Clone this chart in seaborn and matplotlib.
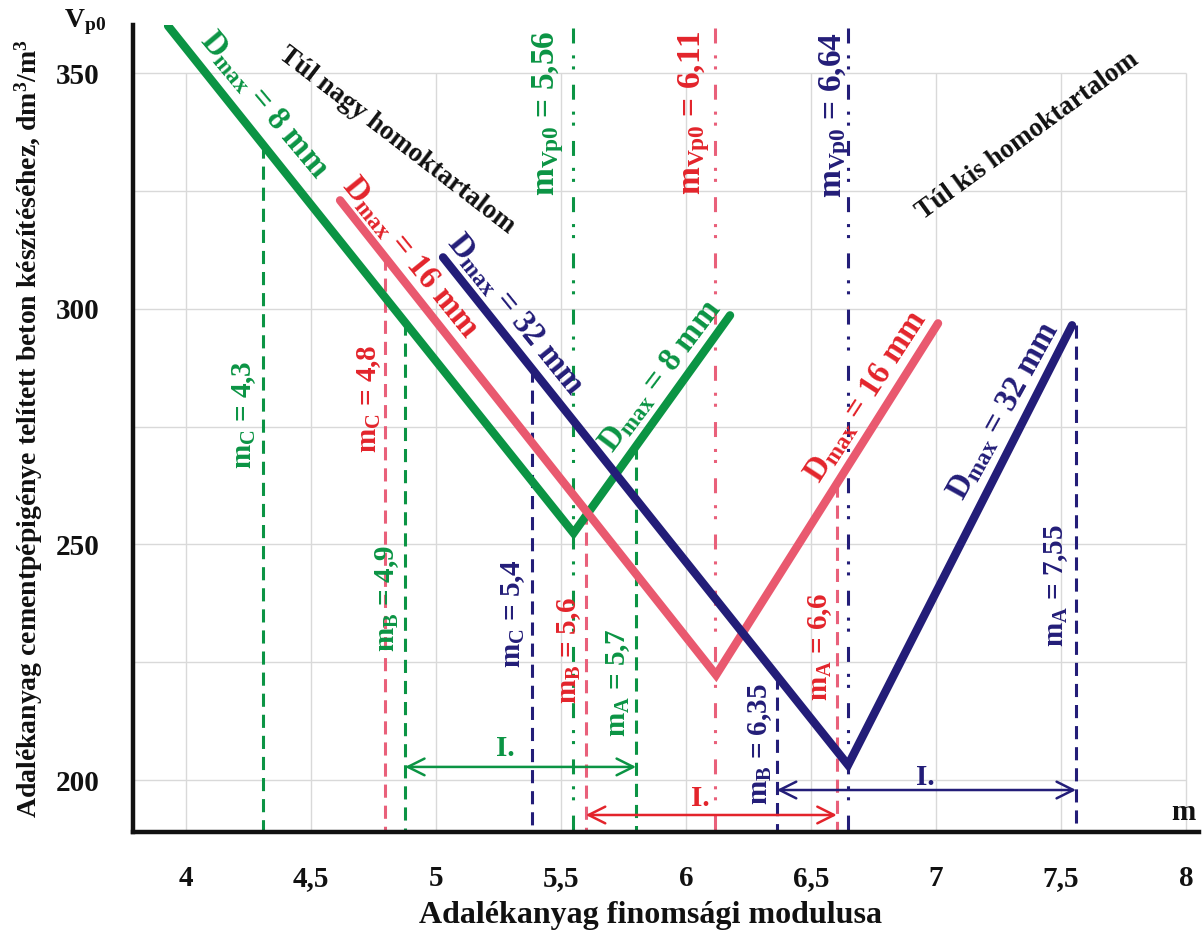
import numpy as np
import pandas as pd
import matplotlib
matplotlib.use("Agg")
import matplotlib.pyplot as plt
import seaborn as sns

# ---------------- data ----------------
series_names = ["8 mm", "16 mm", "32 mm"]
x_8mm = [3.928, 5.55, 6.176]
y_8mm = [360.0, 252.4, 298.6]
x_16mm = [4.616, 6.12, 7.008]
y_16mm = [323.0, 222.3, 296.9]
x_32mm = [5.028, 6.648, 7.544]
y_32mm = [310.9, 203.2, 296.5]

# characteristic fineness moduli: drawn position and printed value (per series 8/16/32 mm)
mC_pos = [4.308, 4.796, 5.384]
mC_text = ["4,3", "4,8", "5,4"]
mB_pos = [4.876, 5.599, 6.363]
mB_text = ["4,9", "5,6", "6,35"]
mA_pos = [5.80, 6.603, 7.56]
mA_text = ["5,7", "6,6", "7,55"]
mVp0_pos = [5.548, 6.116, 6.648]
mVp0_text = ["5,56", "6,11", "6,64"]

x_ticks = [4, 4.5, 5, 5.5, 6, 6.5, 7, 7.5, 8]
x_tick_labels = ["4", "4,5", "5", "5,5", "6", "6,5", "7", "7,5", "8"]
y_ticks = [200, 250, 300, 350]
y_grid = [200, 225, 250, 275, 300, 325, 350]

# ---------------- style ----------------
sns.set_theme(style="white")
plt.rcParams["font.family"] = ["Liberation Serif", "DejaVu Serif"]
plt.rcParams["font.weight"] = "bold"
plt.rcParams["mathtext.fontset"] = "custom"
plt.rcParams["mathtext.rm"] = "Liberation Serif:bold"
plt.rcParams["mathtext.it"] = "Liberation Serif:bold"
plt.rcParams["mathtext.bf"] = "Liberation Serif:bold"
plt.rcParams["mathtext.default"] = "rm"

GREEN = "#0b9444"
RED_LINE = "#e9596f"
RED_DASH = "#e9607a"
RED_TXT = "#e3242b"
BLUE = "#231d78"
line_colors = [GREEN, RED_LINE, BLUE]
dash_colors = [GREEN, RED_DASH, BLUE]
text_colors = [GREEN, RED_TXT, BLUE]

fig = plt.figure(figsize=(12.03, 9.35), dpi=100)
ax = fig.add_axes([0.1106, 0.1102, 0.8857, 0.8631])
XMIN, XMAX = 3.788, 8.05
YMIN, YMAX = 189.0, 360.2
ax.set_xlim(XMIN, XMAX)
ax.set_ylim(YMIN, YMAX)

# grid (only up to 350 / 8 as in the original)
ax.vlines(x_ticks, YMIN, 350, colors="#d9d9d9", lw=1, zorder=0)
ax.hlines(y_grid, XMIN, 8, colors="#d9d9d9", lw=1, zorder=0)

# ---------------- V-curves via seaborn ----------------
xs_all = [x_8mm, x_16mm, x_32mm]
ys_all = [y_8mm, y_16mm, y_32mm]
df = pd.DataFrame({
    "m": np.concatenate(xs_all),
    "V": np.concatenate(ys_all),
    "Dmax": np.repeat(series_names, [len(v) for v in xs_all]),
})
sns.lineplot(data=df, x="m", y="V", hue="Dmax", palette=dict(zip(series_names, line_colors)),
             estimator=None, sort=False, lw=6, legend=False, ax=ax, zorder=5,
             solid_joinstyle="miter")

# ---------------- vertical characteristic lines ----------------
dash_ls = (0, (4.3, 2.6))
dashdot_ls = (0, (4.9, 3.9, 1.0, 2.6, 1.0, 5.0))
for i in range(3):
    xs, ys = xs_all[i], ys_all[i]
    for pos in (mC_pos[i], mB_pos[i], mA_pos[i]):
        top = np.interp(pos, xs, ys)
        ax.plot([pos, pos], [top, YMIN], color=dash_colors[i], lw=2.2, ls=dash_ls, zorder=4)
    ax.plot([mVp0_pos[i]] * 2, [359.5, YMIN], color=dash_colors[i], lw=2.2, ls=dashdot_ls, zorder=4)

# ---------------- range arrows "I." ----------------
arrow_y = [202.8, 192.6, 197.9]
arrow_lbl = [(5.276, 206.8), (6.056, 196.2), (6.956, 200.6)]
arrow_cols = [GREEN, RED_TXT, BLUE]
for i in range(3):
    ax.annotate("", xy=(mA_pos[i], arrow_y[i]), xytext=(mB_pos[i], arrow_y[i]),
                arrowprops=dict(arrowstyle="<->,head_length=0.6,head_width=0.3",
                                color=arrow_cols[i], lw=1.8, shrinkA=0, shrinkB=0,
                                mutation_scale=20), zorder=6)
    ax.text(*arrow_lbl[i], "I.", color=arrow_cols[i], fontsize=21, fontweight="bold",
            ha="center", va="center", zorder=7)


def label(x, y, s, color, rot, size):
    ax.text(x, y, s, color=color, rotation=rot, rotation_mode="anchor", ha="center",
            va="center", fontsize=size, fontweight="bold", zorder=8)


# D_max labels along the curves
dmax_desc = [(4.312, 343.3, -50), (4.896, 310.9, -51), (5.316, 298.8, -51)]
dmax_asc = [(5.896, 285.6, 53), (6.72, 281.4, 57), (7.272, 278.4, 61)]
for i in range(3):
    s = "D$_{max}$ = " + series_names[i]
    label(*dmax_desc[i][:2], s, text_colors[i], dmax_desc[i][2], 23.5)
    label(*dmax_asc[i][:2], s, text_colors[i], dmax_asc[i][2], 23.5)

label(4.844, 335.7, "Túl nagy homoktartalom", "#111111", -37.5, 19.5)
label(7.368, 336.7, "Túl kis homoktartalom", "#111111", 36, 19.5)

# m labels
mVp0_lbl = [(5.448, 341.4), (6.032, 341.6), (6.596, 341.2)]
mC_lbl = [(4.232, 277.6), (4.732, 281.0), (5.308, 235.4)]
mB_lbl = [(4.804, 238.6), (5.532, 227.6), (6.296, 207.6)]
mA_lbl = [(5.728, 220.6), (6.536, 228.2), (7.48, 241.3)]
for i in range(3):
    label(*mVp0_lbl[i], "m$_{Vp0}$ = " + mVp0_text[i], text_colors[i], 90, 24)
    label(*mC_lbl[i], "m$_C$ = " + mC_text[i], text_colors[i], 90, 21)
    label(*mB_lbl[i], "m$_B$ = " + mB_text[i], text_colors[i], 90, 21)
    label(*mA_lbl[i], "m$_A$ = " + mA_text[i], text_colors[i], 90, 21)

# ---------------- axes cosmetics ----------------
for sp in ("top", "right"):
    ax.spines[sp].set_visible(False)
for sp in ("left", "bottom"):
    ax.spines[sp].set_color("#111111")
    ax.spines[sp].set_linewidth(3.2)
    ax.spines[sp].set_zorder(9)

ax.set_xticks(x_ticks)
ax.set_xticklabels(x_tick_labels)
ax.set_yticks(y_ticks)
ax.set_yticklabels([str(v) for v in y_ticks])
ax.tick_params(axis="both", direction="out", length=15, width=1, color="#a0a0a0",
               labelsize=21, pad=9, labelcolor="#111111")
for t in ax.get_xticklabels() + ax.get_yticklabels():
    t.set_fontweight("bold")

ax.set_xlabel("Adalékanyag finomsági modulusa", fontsize=23, fontweight="bold",
              color="#111111")
ax.xaxis.set_label_coords(0.486, -0.086)
ax.set_ylabel("Adalékanyag cementpépigénye telített beton készítéséhez, dm$^3$/m$^3$",
              fontsize=20, fontweight="bold", color="#111111")
ax.yaxis.set_label_coords(-0.083, 0.5)

fig.text(85 / 1203, 1 - 22 / 935, "V$_{p0}$", fontsize=20, fontweight="bold",
         ha="center", va="center", color="#111111")
fig.text(1183 / 1203, 1 - 812 / 935, "m", fontsize=21, fontweight="bold",
         ha="center", va="center", color="#111111")

fig.savefig("out.png", dpi=100)
